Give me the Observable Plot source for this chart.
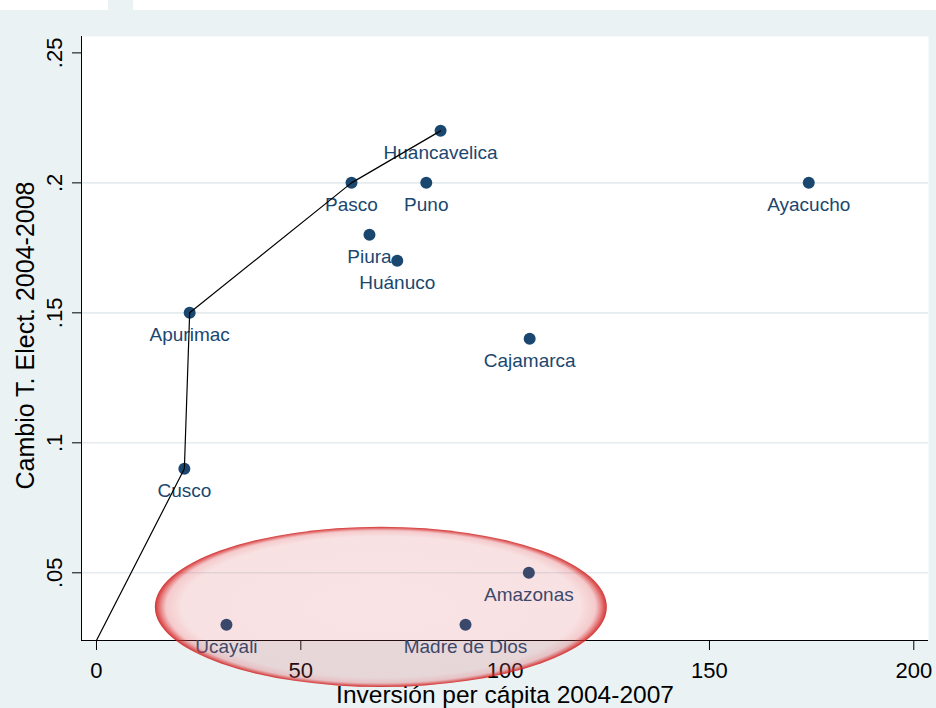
<!DOCTYPE html>
<html>
<head>
<meta charset="utf-8">
<script src="https://cdn.jsdelivr.net/npm/d3@7"></script>
<script src="https://cdn.jsdelivr.net/npm/@observablehq/plot@0.6"></script>
<style>
  html, body { margin: 0; padding: 0; background: #ffffff; }
  #strip { position: relative; height: 10px; background: #ffffff; }
  #tab { position: absolute; left: 108px; top: 0; width: 25px; height: 10px; background: #eaf2f3; }
  #chart svg { display: block; }
</style>
</head>
<body>
<div id="strip"><div id="tab"></div></div>
<div id="chart"></div>
<script>
// ---- data ----
const regions   = ["Huancavelica", "Pasco", "Puno", "Ayacucho", "Piura", "Huánuco", "Apurimac", "Cajamarca", "Cusco", "Amazonas", "Ucayali", "Madre de Dios"];
const inversion = [84.2, 62.4, 80.7, 174.3, 66.8, 73.6, 22.8, 106.0, 21.5, 105.8, 31.8, 90.3];
const cambio    = [0.22, 0.20, 0.20, 0.20, 0.18, 0.17, 0.15, 0.14, 0.09, 0.05, 0.03, 0.03];

// frontier line
const frontierX = [0, 21.5, 22.8, 62.4, 84.2];
const frontierY = [0.024, 0.09, 0.15, 0.20, 0.22];

// axis ticks
const xTicks = [0, 50, 100, 150, 200];
const yTicks = [0.05, 0.10, 0.15, 0.20, 0.25];
const yGrid  = [0.05, 0.10, 0.15, 0.20];

const xTitle = "Inversión per cápita 2004-2007";
const yTitle = "Cambio T. Elect. 2004-2008";

// ---- tables ----
const points = regions.map((r, i) => ({region: r, x: inversion[i], y: cambio[i]}));
const frontier = frontierX.map((x, i) => ({x, y: frontierY[i]}));

const xDomain = [-3.67, 203.6];
const yDomain = [0.02396, 0.2563];
const navy = "#1a476f";
const fmtY = d => String(+d.toFixed(2)).replace(/^0/, "");

// highlight ellipse (annotation) in data units
const highlight = {cx: 69.7, cy: 0.0367, rx: 55.3, ry: 0.0308};

function ellipseMark(index, scales) {
  const g = d3.create("svg:g");
  const defs = g.append("defs");
  const grad = defs.append("radialGradient").attr("id", "ellGrad")
    .attr("cx", "50%").attr("cy", "50%").attr("r", "50%");
  [
    [0.00, "rgb(216,80,86)", 0.16],
    [0.88, "rgb(216,80,86)", 0.17],
    [0.95, "rgb(220,80,86)", 0.30],
    [0.985, "rgb(214,45,45)", 0.75],
    [1.00, "rgb(205,30,30)", 0.9]
  ].forEach(([o, c, a]) => grad.append("stop").attr("offset", o).attr("stop-color", c).attr("stop-opacity", a));
  const cx = scales.x(highlight.cx), cy = scales.y(highlight.cy);
  const rx = Math.abs(scales.x(highlight.cx + highlight.rx) - cx);
  const ry = Math.abs(scales.y(highlight.cy + highlight.ry) - cy);
  g.append("ellipse").attr("cx", cx).attr("cy", cy).attr("rx", rx).attr("ry", ry)
    .attr("fill", "url(#ellGrad)");
  return g.node();
}

const chart = Plot.plot({
  width: 936,
  height: 698,
  marginLeft: 81,
  marginRight: 8,
  marginTop: 26,
  marginBottom: 68,
  x: {domain: xDomain, axis: null},
  y: {domain: yDomain, axis: null},
  style: {background: "#eaf2f3", color: "black", fontFamily: "'Liberation Sans', Arial, Helvetica, sans-serif", overflow: "visible"},
  marks: [
    Plot.frame({fill: "white", stroke: "none"}),
    Plot.ruleY(yGrid, {stroke: "#e4ecef", strokeWidth: 1.6}),
    Plot.ruleX([xDomain[0]], {stroke: "black", strokeWidth: 1}),
    Plot.ruleY([yDomain[0]], {stroke: "black", strokeWidth: 1}),
    Plot.axisX({ticks: xTicks, anchor: "bottom", tickSize: 10, tickFormat: () => "", label: null, stroke: "black"}),
    Plot.axisY({ticks: yTicks, anchor: "left", tickSize: 9, tickFormat: () => "", label: null, stroke: "black"}),
    Plot.text(xTicks, {x: d => d, y: () => yDomain[0], text: d => String(d), dy: 30, fontSize: 22, lineAnchor: "middle", textAnchor: "middle", fill: "black"}),
    Plot.text(yTicks, {x: () => xDomain[0], y: d => d, text: fmtY, rotate: -90, dx: -27, fontSize: 22, lineAnchor: "middle", textAnchor: "middle", fill: "black"}),
    Plot.text([xTitle], {frameAnchor: "bottom", dy: 55, fontSize: 24.5, lineAnchor: "middle", textAnchor: "middle", fill: "black"}),
    Plot.text([yTitle], {frameAnchor: "left", dx: -56, dy: -3, rotate: -90, fontSize: 25, lineAnchor: "middle", textAnchor: "middle", fill: "black"}),
    Plot.dot(points, {x: "x", y: "y", r: 6, fill: navy, stroke: "none"}),
    Plot.text(points, {x: "x", y: "y", text: "region", dy: 22, fontSize: 19, lineAnchor: "middle", textAnchor: "middle", fill: navy}),
    Plot.line(frontier, {x: "x", y: "y", stroke: "black", strokeWidth: 1.2, clip: true}),
    ellipseMark
  ]
});
document.getElementById("chart").appendChild(chart);
</script>
</body>
</html>
